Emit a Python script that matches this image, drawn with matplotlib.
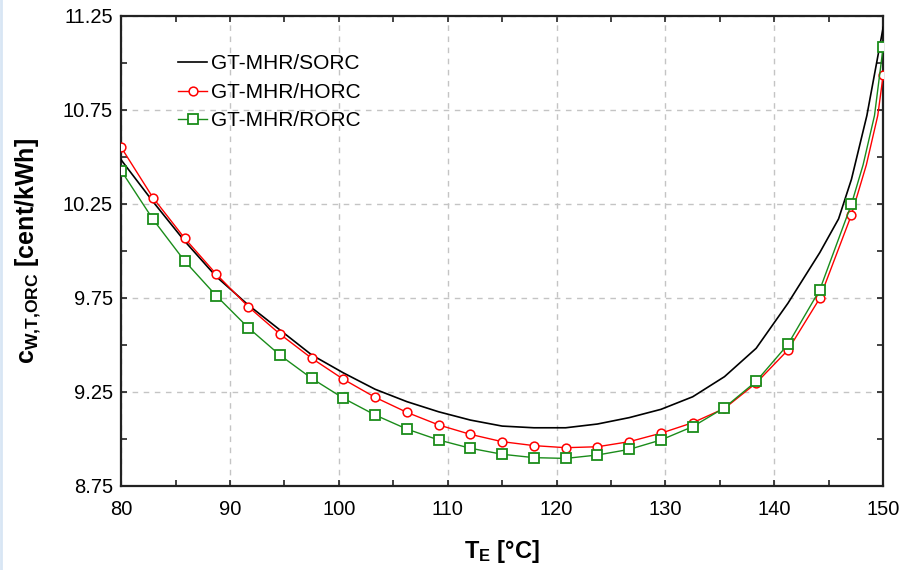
import numpy as np
import matplotlib.pyplot as plt
from matplotlib.ticker import MultipleLocator
from matplotlib.lines import Line2D

plt.rcParams['font.family'] = ['Liberation Sans', 'DejaVu Sans']
plt.rcParams['mathtext.fontset'] = 'custom'
plt.rcParams['mathtext.rm'] = 'Liberation Sans'
plt.rcParams['mathtext.bf'] = 'Liberation Sans:bold'
plt.rcParams['mathtext.it'] = 'Liberation Sans:italic'

# GT-MHR/SORC (plain line, a couple extra points at the steep end)
tE_sorc = [80.0, 82.92, 85.83, 88.75, 91.67, 94.58, 97.5, 100.42, 103.33, 106.25,
           109.17, 112.08, 115.0, 117.92, 120.83, 123.75, 126.67, 129.58, 132.5,
           135.42, 138.33, 141.25, 144.17, 145.9, 147.08, 148.5, 150.0]
c_sorc = [10.484, 10.262, 10.052, 9.862, 9.712, 9.579, 9.446, 9.350, 9.263, 9.197,
          9.143, 9.099, 9.067, 9.058, 9.058, 9.078, 9.112, 9.156, 9.223,
          9.330, 9.481, 9.721, 9.99, 10.17, 10.38, 10.72, 11.19]

# GT-MHR/HORC (markers on the first 24 points + last, line points in between)
tE_horc = [80.0, 82.92, 85.83, 88.75, 91.67, 94.58, 97.5, 100.42, 103.33, 106.25,
           109.17, 112.08, 115.0, 117.92, 120.83, 123.75, 126.67, 129.58, 132.5,
           135.42, 138.33, 141.25, 144.17, 147.08, 148.45, 149.5, 150.0]
c_horc = [10.551, 10.283, 10.067, 9.875, 9.703, 9.557, 9.428, 9.316, 9.220, 9.140,
          9.073, 9.023, 8.984, 8.963, 8.952, 8.957, 8.984, 9.029, 9.085,
          9.161, 9.296, 9.472, 9.747, 10.191, 10.457, 10.72, 10.936]

# GT-MHR/RORC
tE_rorc = [80.0, 82.92, 85.83, 88.75, 91.67, 94.58, 97.5, 100.42, 103.33, 106.25,
           109.17, 112.08, 115.0, 117.92, 120.83, 123.75, 126.67, 129.58, 132.5,
           135.42, 138.33, 141.25, 144.17, 147.08, 148.15, 149.2, 150.0]
c_rorc = [10.427, 10.168, 9.946, 9.760, 9.591, 9.445, 9.321, 9.215, 9.126, 9.051,
          8.993, 8.949, 8.917, 8.899, 8.895, 8.913, 8.943, 8.993, 9.064,
          9.165, 9.305, 9.502, 9.792, 10.248, 10.457, 10.72, 11.087]

# which of the points above carry a marker
mark_idx = list(range(24)) + [26]

labels = ['GT-MHR/SORC', 'GT-MHR/HORC', 'GT-MHR/RORC']

fig = plt.figure(figsize=(9.04, 5.70), dpi=100)
ax = fig.add_axes([0.134, 0.148, 0.843, 0.824])

ax.plot(tE_sorc, c_sorc, color='black', lw=1.2, label=labels[0], zorder=3)
ax.plot(tE_horc, c_horc, color='#ff0000', lw=1.0, marker='o', ms=6.3,
        markevery=mark_idx, mfc='white', mec='#ff0000', mew=1.1,
        label=labels[1], zorder=4)
ax.plot(tE_rorc, c_rorc, color='#1a8c1a', lw=1.0, marker='s', ms=7.2,
        markevery=mark_idx, mfc='white', mec='#1a8c1a', mew=1.3,
        label=labels[2], zorder=5)

ax.set_xlim(80, 150)
ax.set_ylim(8.75, 11.25)
ax.xaxis.set_major_locator(MultipleLocator(10))
ax.xaxis.set_minor_locator(MultipleLocator(5))
ax.yaxis.set_minor_locator(MultipleLocator(0.25))
ax.set_yticks([8.75, 9.25, 9.75, 10.25, 10.75, 11.25])
ax.set_yticklabels(['8.75', '9.25', '9.75', '10.25', '10.75', '11.25'])

ax.grid(True, which='major', color='#c4c4c4', ls=(0, (4, 4)), lw=1.0)
ax.tick_params(which='both', direction='in', top=True, right=True,
               length=4, width=1.2, colors='#222222', labelcolor='black')
ax.tick_params(axis='x', labelsize=14.5, pad=10)
ax.tick_params(axis='y', labelsize=14.5, pad=6)
for s in ax.spines.values():
    s.set_linewidth(1.6)
    s.set_color('#222222')

ax.set_xlabel(r'$\mathbf{T_E}$ [°C]', fontsize=17, fontweight='bold', labelpad=14)
ax.set_ylabel(r'$\mathbf{c_{W{,}T{,}ORC}}$ [cent/kWh]', fontsize=18,
              fontweight='bold', labelpad=14)

ax.legend(loc='upper left', bbox_to_anchor=(0.075, 0.918), frameon=False,
          fontsize=15, handlelength=1.4, handletextpad=0.15, labelspacing=0.45,
          borderpad=0, borderaxespad=0)

# faint blue edge on the left of the screenshot
fig.add_artist(Line2D([0.0015, 0.0015], [0, 1], transform=fig.transFigure,
                      color='#d8e6f4', lw=2))

fig.savefig('out.png', dpi=100)
